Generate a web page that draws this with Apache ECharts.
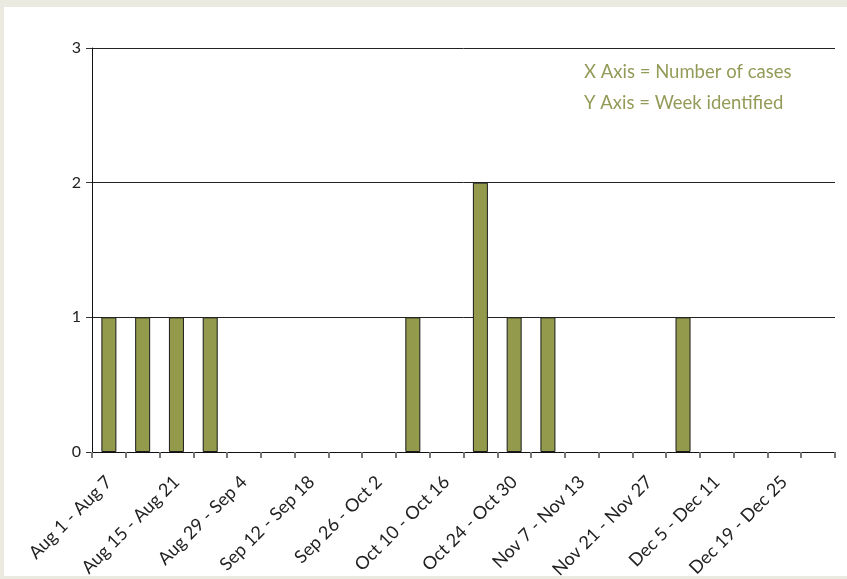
<!DOCTYPE html>
<html>
<head>
<meta charset="utf-8">
<script src="https://cdn.jsdelivr.net/npm/echarts@6/dist/echarts.min.js"></script>
<style>
html,body{margin:0;padding:0;background:#ebeae0;}
#wrap{position:absolute;left:4px;top:7px;width:843px;height:569px;background:#ffffff;}
#chart{position:absolute;left:0;top:0;width:847px;height:579px;}
</style>
</head>
<body>
<div id="wrap"></div>
<div id="chart"></div>
<script>
var weeks = ["Aug 1 - Aug 7","Aug 8 - Aug 14","Aug 15 - Aug 21","Aug 22 - Aug 28","Aug 29 - Sep 4","Sep 5 - Sep 11","Sep 12 - Sep 18","Sep 19 - Sep 25","Sep 26 - Oct 2","Oct 3 - Oct 9","Oct 10 - Oct 16","Oct 17 - Oct 23","Oct 24 - Oct 30","Oct 31 - Nov 6","Nov 7 - Nov 13","Nov 14 - Nov 20","Nov 21 - Nov 27","Nov 28 - Dec 4","Dec 5 - Dec 11","Dec 12 - Dec 18","Dec 19 - Dec 25","Dec 26 - Jan 1"];
var cases = [1,1,1,1,0,0,0,0,0,1,0,2,1,1,0,0,0,1,0,0,0,0];
var yTicks = [0,1,2,3];
var noteLines = ["X Axis = Number of cases","Y Axis = Week identified"];

var chart = echarts.init(document.getElementById('chart'), null, {renderer:'canvas'});
var font = 'Lato, "Open Sans", sans-serif';
var barData = cases.map(function (v) {
  return v === 0 ? {value: v, itemStyle: {borderWidth: 0, opacity: 0}} : {value: v};
});
chart.setOption({
  backgroundColor: 'transparent',
  animation: false,
  grid: {left: 92, right: 12, top: 48, bottom: 127, containLabel: false, outerBoundsMode: 'none'},
  xAxis: {
    type: 'category',
    data: weeks,
    boundaryGap: true,
    axisLine: {show: true, lineStyle: {color: '#111', width: 1}},
    axisTick: {show: true, alignWithLabel: false, interval: 0, length: 6, lineStyle: {color: '#777', width: 2}},
    axisLabel: {interval: 1, rotate: 45, color: '#222', fontSize: 18, fontFamily: font, margin: 27}
  },
  yAxis: {
    type: 'value',
    min: yTicks[0],
    max: yTicks[yTicks.length-1],
    interval: 1,
    axisLine: {show: true, lineStyle: {color: '#111', width: 1}},
    axisTick: {show: true, length: 6, lineStyle: {color: '#333'}},
    axisLabel: {color: '#222', fontSize: 16, fontFamily: font, margin: 11},
    splitLine: {show: true, lineStyle: {color: '#222', width: 1}}
  },
  series: [{
    type: 'bar',
    data: barData,
    barWidth: 15,
    itemStyle: {color: '#939a4c', borderColor: '#1a1a1a', borderWidth: 1}
  }],
  graphic: [
    {type: 'text', left: 584, top: 63, style: {text: noteLines[0], fill: '#949b58', fontSize: 18.5, fontFamily: font}},
    {type: 'text', left: 584, top: 94, style: {text: noteLines[1], fill: '#949b58', fontSize: 18.5, fontFamily: font}}
  ]
});
</script>
</body>
</html>
